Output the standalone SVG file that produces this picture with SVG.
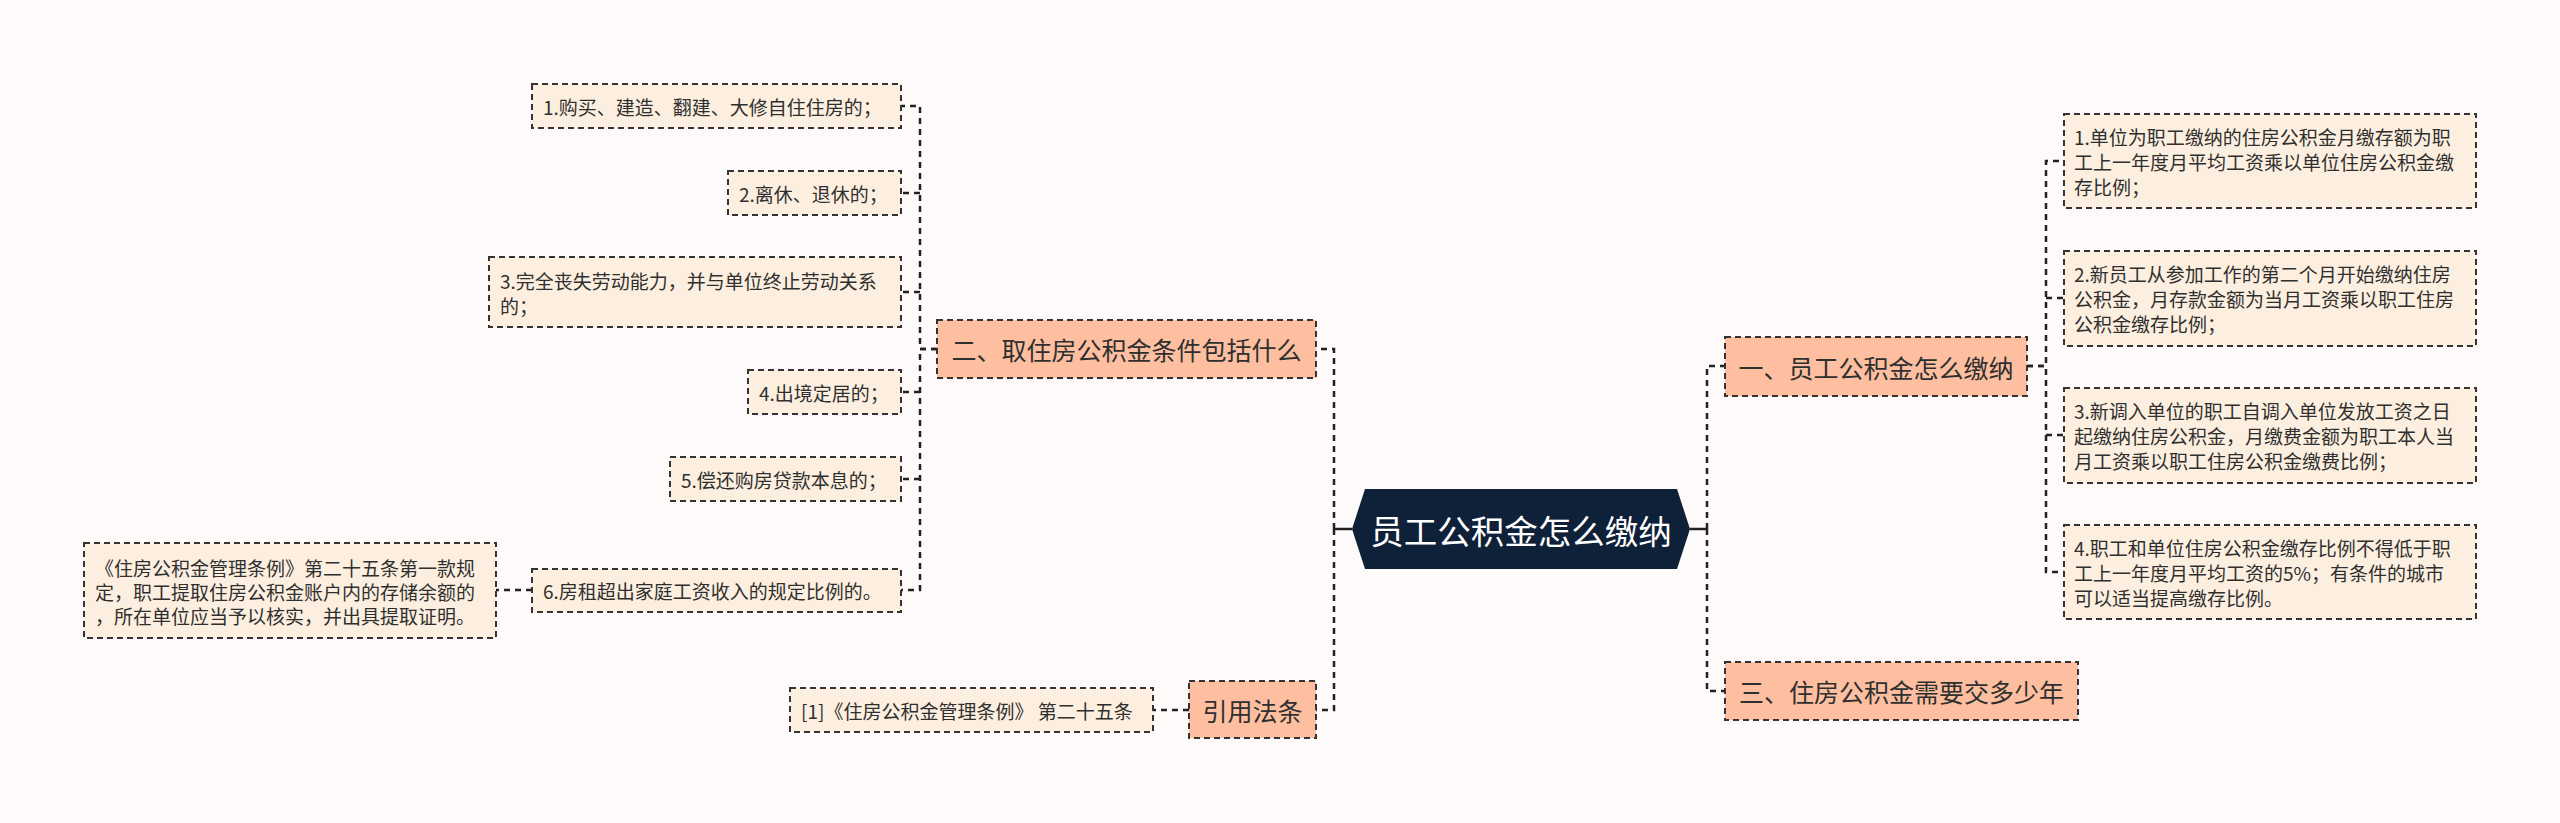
<svg xmlns="http://www.w3.org/2000/svg" width="2560" height="823" viewBox="0 0 2560 823">
<style>
text{font-family:"Noto Sans CJK SC","Noto Sans",sans-serif;fill:#2f2f2f;dominant-baseline:central}
.leaf rect{fill:#fdefdf;stroke:#333;stroke-width:2;stroke-dasharray:6 4}
.branch rect{fill:#fdbf9f;stroke:#333;stroke-width:2;stroke-dasharray:6 4}
.leaf text{font-size:19px}
.branch text{font-size:25px;text-anchor:middle}
.conn path{fill:none;stroke:#222;stroke-width:2.5;stroke-dasharray:6 5}
.conn .solid{stroke-dasharray:none}
</style>
<rect width="2560" height="823" fill="#fdfaf9"/>
<g class="conn" id="connectors">
<path class="solid" d="M1352,529 H1334"/>
<path d="M1334,529 V349 H1316"/>
<path d="M1334,529 V710 H1316"/>
<path d="M937,349 H920 V106 H901"/>
<path d="M920,193 H901"/>
<path d="M920,292 H901"/>
<path d="M937,349 H920 V590 H901"/>
<path d="M920,392 H901"/>
<path d="M920,479 H901"/>
<path d="M532,590 H496"/>
<path d="M1189,710 H1153"/>
<path class="solid" d="M1690,529 H1707"/>
<path d="M1707,529 V366 H1725"/>
<path d="M1707,529 V691 H1725"/>
<path d="M2027,366 H2046 V161 H2064"/>
<path d="M2046,298 H2064"/>
<path d="M2046,435 H2064"/>
<path d="M2027,366 H2046 V572 H2064"/>
</g>
<g id="center">
<polygon points="1352,529 1365,489 1677,489 1690,529 1677,569 1365,569" fill="#0f2039"/>
<text x="1521" y="529" style="font-size:33.5px;fill:#ffffff;text-anchor:middle">员工公积金怎么缴纳</text>
</g>
<g id="b2" class="branch">
<rect x="937" y="320" width="379" height="58"/>
<text x="1126.5" y="349">二、取住房公积金条件包括什么</text>
</g>
<g id="bref" class="branch">
<rect x="1189" y="681" width="127" height="57"/>
<text x="1252.5" y="710">引用法条</text>
</g>
<g id="b1" class="branch">
<rect x="1725" y="337" width="302" height="59"/>
<text x="1876" y="366.5">一、员工公积金怎么缴纳</text>
</g>
<g id="b3" class="branch">
<rect x="1725" y="662" width="353" height="58"/>
<text x="1901.5" y="691">三、住房公积金需要交多少年</text>
</g>
<g id="l1" class="leaf">
<rect x="532" y="84" width="369" height="44"/>
<text x="543" y="106">1.购买、建造、翻建、大修自住住房的；</text>
</g>
<g id="l2" class="leaf">
<rect x="728" y="171" width="173" height="44"/>
<text x="739" y="193">2.离休、退休的；</text>
</g>
<g id="l3" class="leaf">
<rect x="489" y="257" width="412" height="70"/>
<text x="500" y="280">3.完全丧失劳动能力，并与单位终止劳动关系</text>
<text x="500" y="305">的；</text>
</g>
<g id="l4" class="leaf">
<rect x="748" y="370" width="153" height="44"/>
<text x="759" y="392">4.出境定居的；</text>
</g>
<g id="l5" class="leaf">
<rect x="670" y="457" width="231" height="44"/>
<text x="681" y="479">5.偿还购房贷款本息的；</text>
</g>
<g id="l6" class="leaf">
<rect x="532" y="569" width="369" height="43"/>
<text x="543" y="590">6.房租超出家庭工资收入的规定比例的。</text>
</g>
<g id="l6c" class="leaf">
<rect x="84" y="543" width="412" height="95"/>
<text x="95" y="567">《住房公积金管理条例》第二十五条第一款规</text>
<text x="95" y="591">定，职工提取住房公积金账户内的存储余额的</text>
<text x="95" y="615">，所在单位应当予以核实，并出具提取证明。</text>
</g>
<g id="lref" class="leaf">
<rect x="790" y="688" width="363" height="44"/>
<text x="801" y="710">[1]《住房公积金管理条例》 第二十五条</text>
</g>
<g id="r1" class="leaf">
<rect x="2064" y="114" width="412" height="94"/>
<text x="2074" y="136">1.单位为职工缴纳的住房公积金月缴存额为职</text>
<text x="2074" y="161">工上一年度月平均工资乘以单位住房公积金缴</text>
<text x="2074" y="186">存比例；</text>
</g>
<g id="r2" class="leaf">
<rect x="2064" y="251" width="412" height="95"/>
<text x="2074" y="273.5">2.新员工从参加工作的第二个月开始缴纳住房</text>
<text x="2074" y="298.5">公积金，月存款金额为当月工资乘以职工住房</text>
<text x="2074" y="323.5">公积金缴存比例；</text>
</g>
<g id="r3" class="leaf">
<rect x="2064" y="388" width="412" height="95"/>
<text x="2074" y="410.5">3.新调入单位的职工自调入单位发放工资之日</text>
<text x="2074" y="435.5">起缴纳住房公积金，月缴费金额为职工本人当</text>
<text x="2074" y="460.5">月工资乘以职工住房公积金缴费比例；</text>
</g>
<g id="r4" class="leaf">
<rect x="2064" y="525" width="412" height="94"/>
<text x="2074" y="547">4.职工和单位住房公积金缴存比例不得低于职</text>
<text x="2074" y="572">工上一年度月平均工资的5%；有条件的城市</text>
<text x="2074" y="597">可以适当提高缴存比例。</text>
</g>
</svg>
